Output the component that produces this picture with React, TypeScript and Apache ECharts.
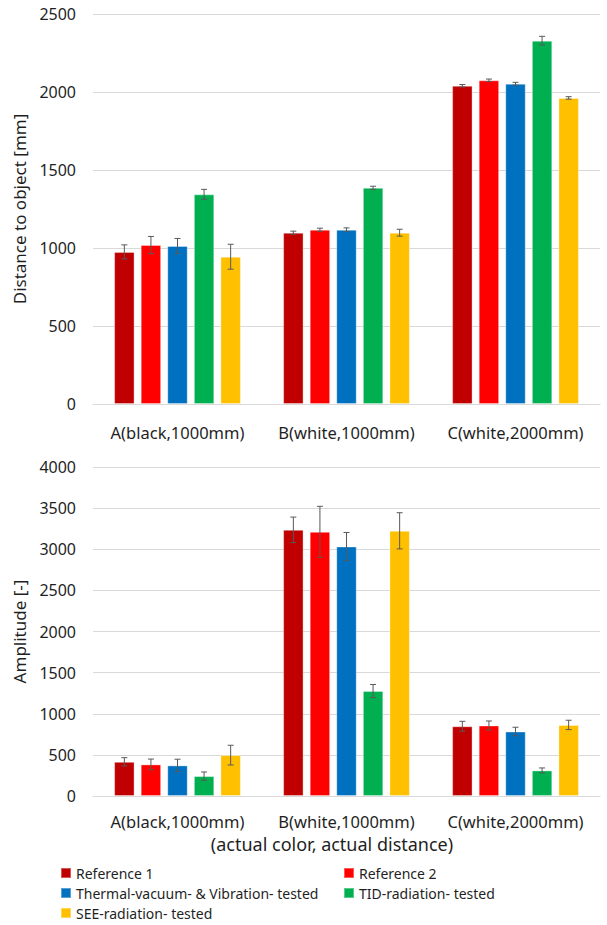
import React, { useEffect, useRef } from "react";
import * as echarts from "echarts";

const categories = ["A(black,1000mm)", "B(white,1000mm)", "C(white,2000mm)"];
const seriesNames = [
  "Reference 1",
  "Reference 2",
  "Thermal-vacuum- & Vibration- tested",
  "TID-radiation- tested",
  "SEE-radiation- tested",
];
const colors = ["#C00000", "#FF0000", "#0070C0", "#00B050", "#FFC000"];

// Distance to object [mm]
const distRef1 = [975, 1098, 2040];
const distRef2 = [1019, 1117, 2075];
const distThermal = [1013, 1117, 2053];
const distTID = [1344, 1386, 2329];
const distSEE = [944, 1098, 1962];
const distErrRef1 = [45, 10, 8];
const distErrRef2 = [55, 10, 8];
const distErrThermal = [48, 12, 9];
const distErrTID = [32, 10, 28];
const distErrSEE = [80, 22, 8];

// Amplitude [-]
const ampRef1 = [416, 3236, 848];
const ampRef2 = [384, 3212, 857];
const ampThermal = [372, 3034, 784];
const ampTID = [242, 1276, 311];
const ampSEE = [497, 3224, 864];
const ampErrRef1 = [50, 155, 60];
const ampErrRef2 = [65, 310, 55];
const ampErrThermal = [75, 170, 52];
const ampErrTID = [50, 80, 30];
const ampErrSEE = [120, 220, 57];

const distTicks = { min: 0, max: 2500, interval: 500 };
const ampTicks = { min: 0, max: 4000, interval: 500 };

const distValues = [distRef1, distRef2, distThermal, distTID, distSEE];
const distErrs = [distErrRef1, distErrRef2, distErrThermal, distErrTID, distErrSEE];
const ampValues = [ampRef1, ampRef2, ampThermal, ampTID, ampSEE];
const ampErrs = [ampErrRef1, ampErrRef2, ampErrThermal, ampErrTID, ampErrSEE];

const FONT = "Noto Sans";
const TEXT = "#1f1f1f";
const BAR_CAT_GAP = 0.25;
const BAR_GAP = 0.3;
const N = seriesNames.length;

function errorRenderer(seriesIdx: number) {
  return (params: any, api: any) => {
    const cat = api.value(0);
    const val = api.value(1);
    const err = api.value(2);
    const band = api.size([1, 0])[0];
    const area = band * (1 - BAR_CAT_GAP);
    const barW = area / (N + (N - 1) * BAR_GAP);
    const center = api.coord([cat, val]);
    const x = center[0] - area / 2 + barW / 2 + seriesIdx * barW * (1 + BAR_GAP);
    const top = api.coord([cat, val + err])[1];
    const bot = api.coord([cat, val - err])[1];
    const cap = 3;
    const style = { stroke: "#595959", lineWidth: 1 };
    return {
      type: "group",
      children: [
        { type: "line", shape: { x1: x, y1: top, x2: x, y2: bot }, style },
        { type: "line", shape: { x1: x - cap, y1: top, x2: x + cap, y2: top }, style },
        { type: "line", shape: { x1: x - cap, y1: bot, x2: x + cap, y2: bot }, style },
      ],
    };
  };
}

function buildSeries(values: number[][], errs: number[][], axisIdx: number) {
  const out: any[] = [];
  values.forEach((vals, i) => {
    out.push({
      name: seriesNames[i],
      type: "bar",
      xAxisIndex: axisIdx,
      yAxisIndex: axisIdx,
      data: vals,
      barGap: `${BAR_GAP * 100}%`,
      barCategoryGap: `${BAR_CAT_GAP * 100}%`,
      itemStyle: { color: colors[i], borderColor: "rgba(255,255,255,0.35)", borderWidth: 1 },
    });
  });
  values.forEach((vals, i) => {
    out.push({
      name: seriesNames[i],
      type: "custom",
      xAxisIndex: axisIdx,
      yAxisIndex: axisIdx,
      renderItem: errorRenderer(i),
      encode: { x: 0, y: 1 },
      data: vals.map((v, c) => [c, v, errs[i][c]]),
      z: 5,
      silent: true,
    });
  });
  return out;
}

export default function App() {
  const ref = useRef<HTMLDivElement>(null);
  useEffect(() => {
    if (!ref.current) return;
    const chart = echarts.init(ref.current, undefined, { renderer: "svg" });
    const xAxisLabel = {
      color: TEXT,
      fontSize: 16.5,
      fontFamily: FONT,
      interval: 0,
      hideOverlap: false,
    };
    const xAxisCommon = {
      type: "category",
      data: categories,
      axisTick: { show: false },
      axisLine: { lineStyle: { color: "#d9d9d9", width: 1 } },
    };
    const yAxisCommon = {
      type: "value",
      axisLine: { show: false },
      axisTick: { show: false },
      splitLine: { lineStyle: { color: "#d9d9d9", width: 1 } },
      axisLabel: {
        color: TEXT,
        fontSize: 16,
        fontFamily: FONT,
        margin: 17,
        formatter: (v: number) => String(v),
      },
      nameLocation: "middle",
      nameTextStyle: { color: TEXT, fontSize: 17, fontFamily: FONT },
    };
    const legendCommon = {
      orient: "vertical",
      top: 866,
      padding: 0,
      itemWidth: 10,
      itemHeight: 10,
      itemGap: 6,
      icon: "rect",
      textStyle: { color: TEXT, fontSize: 14, fontFamily: FONT, lineHeight: 14 },
    };
    chart.setOption({
      animation: false,
      backgroundColor: "#ffffff",
      grid: [
        { left: 93, right: 7, top: 14, height: 390 },
        { left: 93, right: 7, top: 467, height: 329 },
      ],
      xAxis: [
        { ...xAxisCommon, gridIndex: 0, axisLabel: { ...xAxisLabel, margin: 20 } },
        {
          ...xAxisCommon,
          gridIndex: 1,
          axisLabel: { ...xAxisLabel, margin: 17, lineHeight: 17 },
          name: "(actual color, actual distance)",
          nameLocation: "middle",
          nameGap: 39,
          nameTextStyle: {
            color: TEXT,
            fontSize: 18,
            fontFamily: FONT,
            lineHeight: 18,
            padding: [0, 29, 0, 0],
          },
        },
      ],
      yAxis: [
        { ...yAxisCommon, gridIndex: 0, ...distTicks, name: "Distance to object [mm]", nameGap: 62 },
        { ...yAxisCommon, gridIndex: 1, ...ampTicks, name: "Amplitude [-]", nameGap: 62 },
      ],
      legend: [
        { ...legendCommon, left: 60, data: [seriesNames[0], seriesNames[2], seriesNames[4]] },
        { ...legendCommon, left: 343, data: [seriesNames[1], seriesNames[3]] },
      ],
      series: [...buildSeries(distValues, distErrs, 0), ...buildSeries(ampValues, ampErrs, 1)],
    });
    return () => chart.dispose();
  }, []);
  return (
    <div
      ref={ref}
      style={{ position: "absolute", left: 0, top: 0, width: 607, height: 925 }}
    />
  );
}
